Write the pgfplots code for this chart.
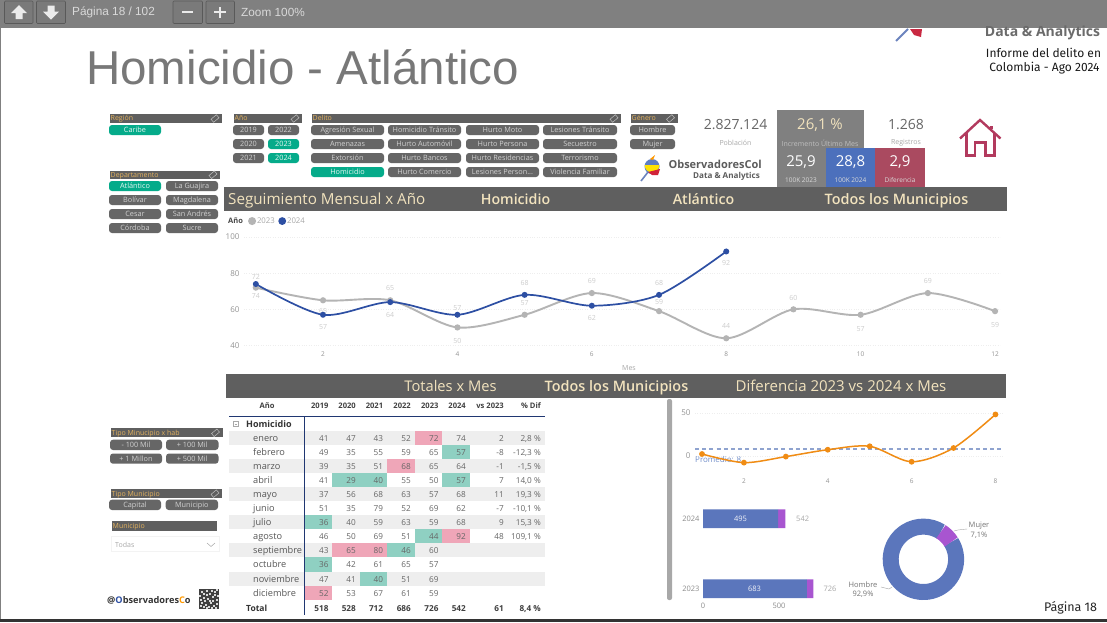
\documentclass[border=0pt]{standalone}
\usepackage{pgfplots}
\pgfplotsset{compat=1.18}
\usepackage{fontspec}
\setmainfont{Open Sans}
\newfontfamily\lib{Liberation Sans}
\newfontfamily\fira{Fira Sans}
\newfontfamily\semi{Open Sans Semibold}
\definecolor{tbar}{HTML}{808080}
\definecolor{dark}{HTML}{5F5F5F}
\definecolor{btn}{HTML}{666666}
\definecolor{teal}{HTML}{05AB8A}
\definecolor{cream}{HTML}{F2E3BE}
\definecolor{gold}{HTML}{E3B25E}
\definecolor{txt}{HTML}{666666}
\definecolor{lgt}{HTML}{A8A8A8}
\definecolor{faint}{HTML}{CCCCCC}
\definecolor{stripe}{HTML}{EEEEEE}
\definecolor{pink}{HTML}{EFA6B8}
\definecolor{mint}{HTML}{8FD0C2}
\definecolor{gr}{HTML}{B4B4B4}
\definecolor{bl}{HTML}{2D4FA3}
\definecolor{barb}{HTML}{5B76BC}
\definecolor{purp}{HTML}{A855D0}
\definecolor{org}{HTML}{F08C14}
\definecolor{crim}{HTML}{B23A5E}
\definecolor{redbox}{HTML}{AA4A60}
\definecolor{blubox}{HTML}{4C70BC}
\definecolor{dashc}{HTML}{8FA3CF}
\newcommand{\fs}[1]{\fontsize{#1}{#1}\selectfont}
\newcommand{\btn}[6][btn]{\fill[#1,rounded corners=3pt] (#2,#3) rectangle (#4,#5);
  \node[font=\fs{7.3},text=#6,inner sep=0pt,anchor=base] at ({(#2+#4)/2},{(#3+#5)/2+2.5}) {\btntext};}
\newcommand{\B}[6][btn]{\def\btntext{#6}\btn[#1]{#2}{#3}{#4}{#5}{white!82!black}}
\newcommand{\T}[5]{\def\btntext{#5}\btn[teal]{#1}{#2}{#3}{#4}{white!90!teal}}
\newcommand{\hdr}[6]{\fill[dark] (#1,#2) rectangle (#3,#4);
  \node[font=\fs{7},text=gold,inner sep=0pt,anchor=base west] at (#1+0.5,{(#2+#4)/2+2.4}) {#5};
  \ifx#6y\draw[white!75!black,line width=0.5pt,rotate around={40:(#3-7,{(#2+#4)/2})}] (#3-10.5,{(#2+#4)/2-2}) rectangle (#3-3.5,{(#2+#4)/2+2});\fi}
\newcommand{\tx}[5][center]{\node[font=\fs{#2},text=#3,inner sep=0pt,anchor=#1] at #4 {#5};}
\newcommand{\hl}[3]{\fill[#1] ({304.7+27.47*#2},{431+14.05*#3}) rectangle ({304.7+27.47*(#2+1)},{431+14.05*(#3+1)});}
\newcommand{\cell}[3]{\node[font=\fs{8.2},text=txt,inner sep=0pt,anchor=base east] at (#1,{441.5+14.05*#2}) {#3};}
\newcommand{\trow}[9]{\node[font=\fs{9.2},text=txt!85!black,inner sep=0pt,anchor=base west] at (253,{441.5+14.05*#1}) {#2};
  \cell{328.7}{#1}{#3}\cell{356}{#1}{#4}\cell{383.3}{#1}{#5}\cell{411}{#1}{#6}\cell{438.7}{#1}{#7}\cell{466}{#1}{#8}\def\rowid{#1}\extra{#9}}
\newcommand{\extra}[1]{\extraB#1\relax}
\def\extraB#1/#2\relax{\cell{504}{\rowid}{#1}\cell{541}{\rowid}{#2}}
\begin{document}
\begin{tikzpicture}
\begin{scope}[x=1pt,y=-1pt]
\path[use as bounding box] (0,0) rectangle (1107,622);
\fill[white] (0,0) rectangle (1107,622);
% toolbar
\fill[tbar] (0,0) rectangle (1107,28);
\fill[tbar] (0,28) rectangle (1,622);
\fill[white!20!black] (0,618.5) rectangle (1107,622);
\foreach \a/\b in {4.5/33,36.5/65.5,173/202.5,206/234.5}{\draw[white!35!black,fill=white!48!black,rounded corners=1pt,line width=0.6pt] (\a,1) rectangle (\b,23.5);}
\fill[white!92!black] (19,5) -- (27,13) -- (22.5,13) -- (22.5,19) -- (15.5,19) -- (15.5,13) -- (11,13) -- cycle;
\fill[white!92!black] (51,19.5) -- (59,11.5) -- (54.5,11.5) -- (54.5,5.5) -- (47.5,5.5) -- (47.5,11.5) -- (43,11.5) -- cycle;
\fill[white!92!black] (182,11) rectangle (193,13);
\fill[white!92!black] (214,11) rectangle (226,13);\fill[white!92!black] (219,6.5) rectangle (221,18);
\tx[west]{11.8}{white!85!black}{(72,12)}{\lib Página 18 / 102}
\tx[west]{11.8}{white!85!black}{(241,12)}{\lib Zoom 100\%}
% title and top right
\tx[west]{47.5}{white!47!black}{(86,67)}{\lib Homicidio - Atlántico}
\tx{14}{white!42!black}{(1042.5,33)}{\bfseries Data \& Analytics}
\tx{12}{black!90}{(1043.5,53)}{\fira Informe del delito en}
\tx{12}{black!90}{(1044.5,68)}{\fira Colombia - Ago 2024}
\draw[white!30!bl,line width=1.8pt] (896,41) -- (908,29);
\fill[crim!70!red] (910,29) -- (922,29) -- (921,37) -- (914,35) -- cycle;
\tx{12.5}{black!85}{(1070.5,608)}{\fira Página 18}
% region slicers
\hdr{110}{114}{222}{123}{Región}{y}
\T{109}{125}{161}{135}{Caribe}
\hdr{234}{114}{302}{123}{Año}{y}
\B{233}{125}{264}{135}{2019}\B{268}{125}{299}{135}{2022}
\B{233}{139}{264}{149}{2020}\T{268}{139}{299}{149}{2023}
\B{233}{153}{264}{163}{2021}\T{268}{153}{299}{163}{2024}
\hdr{312}{114}{621}{123}{Delito}{y}
\B{311}{125}{384}{135}{Agresión Sexual}\B{388}{125}{461}{135}{Homicidio Tránsito}\B{466}{125}{539}{135}{Hurto Moto}\B{543}{125}{617}{135}{Lesiones Tránsito}
\B{311}{139}{384}{149}{Amenazas}\B{388}{139}{461}{149}{Hurto Automóvil}\B{466}{139}{539}{149}{Hurto Persona}\B{543}{139}{617}{149}{Secuestro}
\B{311}{153}{384}{163}{Extorsión}\B{388}{153}{461}{163}{Hurto Bancos}\B{466}{153}{539}{163}{Hurto Residencias}\B{543}{153}{617}{163}{Terrorismo}
\T{311}{167}{384}{177}{Homicidio}\B{388}{167}{461}{177}{Hurto Comercio}\B{466}{167}{539}{177}{Lesiones Person...}\B{543}{167}{617}{177}{Violencia Familiar}
\hdr{631}{114}{677.5}{123}{Género}{y}
\B{630}{125}{675}{135}{Hombre}\B{630}{139}{675}{149}{Mujer}
\hdr{110}{170.5}{220}{179}{Departamento}{y}
\T{109}{181}{161}{191}{Atlántico}\B{166}{181}{218}{191}{La Guajira}
\B{109}{195}{161}{205}{Bolívar}\B{166}{195}{218}{205}{Magdalena}
\B{109}{209}{161}{219}{Cesar}\B{166}{209}{218}{219}{San Andrés}
\B{109}{223}{161}{233}{Córdoba}\B{166}{223}{218}{233}{Sucre}
% KPI
\tx{14}{txt}{(735.5,125)}{2.827.124}
\tx{7}{lgt}{(735.5,143)}{Población}
\fill[tbar] (777,110) rectangle (864,149);
\fill[tbar] (777,148) rectangle (826,187);
\fill[blubox] (826,148) rectangle (875,187);
\fill[redbox] (875,148) rectangle (925,187);
\tx{15}{cream}{(820,125)}{26,1 \%}
\tx{7}{white!75!black}{(820,143)}{Incremento Último Mes}
\tx{14}{txt}{(906,125)}{1.268}
\tx{7}{lgt}{(906,143)}{Registros}
\tx{15}{white}{(801,162)}{25,9}\tx{15}{white}{(850.5,162)}{28,8}\tx{15}{white}{(900,162)}{2,9}
\tx{6.5}{white!85!black}{(801,180)}{100K 2023}\tx{6.5}{white!85!black}{(850.5,180)}{100K 2024}\tx{6.5}{white!85!black}{(900,180)}{Diferencia}
% house
\draw[crim,line width=2.4pt,line join=miter] (960,138.5) -- (980,120) -- (1000.5,138.5);
\draw[crim,line width=2.4pt] (991.5,129) -- (991.5,125.5);
\draw[crim,line width=2.4pt] (966.5,133) -- (966.5,155.5) -- (975,155.5) -- (975,142.5) -- (985.5,142.5) -- (985.5,155.5) -- (994.5,155.5) -- (994.5,133);
% logo
\draw[white!30!bl,line width=1.6pt] (641,181) -- (648,172);
\fill[blubox!90!white] (652,166.5) circle (7.5);
\fill[yellow!85!orange] (644.6,165) arc (180:0:7.4) -- cycle;
\fill[crim!60!red] (648,172) -- (660,169) -- (658,175) -- (652,175) -- cycle;
\fill[orange!80!yellow] (650,159) -- (655,155) -- (653,160) -- cycle;
\tx[east]{11}{txt!90!black}{(762,164)}{\bfseries ObservadoresCol}
\tx[east]{8.1}{txt!90!black}{(760,176)}{\bfseries Data \& Analytics}
% banners
\fill[dark] (224,187) rectangle (1007,211);
\tx[base west]{15.2}{cream}{(228,204)}{Seguimiento Mensual x Año}
\tx[base]{14.2}{cream}{(515.5,204)}{\semi Homicidio}
\tx[base]{14.2}{cream}{(703.5,204)}{\semi Atlántico}
\tx[base]{14.4}{cream}{(896.5,204)}{\semi Todos los Municipios}
\fill[dark] (226,374) rectangle (1006,398);
\tx[base]{14.7}{cream}{(450.5,391)}{Totales x Mes}
\tx[base]{14.4}{cream}{(616.5,391)}{\semi Todos los Municipios}
\tx[base]{15}{cream}{(841,391)}{Diferencia 2023 vs 2024 x Mes}
\tx[west]{7.5}{txt!70!black}{(228,221)}{\bfseries Año}
% left lower slicers
\hdr{111}{428.3}{222.5}{437.3}{Tipo Minucipio x hab}{y}
\B{110}{439.7}{162}{450}{- 100 Mil}\B{166}{439.7}{218.5}{450}{+ 100 Mil}
\B{110}{453.5}{162}{463.7}{+ 1 Millon}\B{166}{453.5}{218.5}{463.7}{+ 500 Mil}
\hdr{111}{489.3}{222}{498}{Tipo Municipio}{y}
\B{109}{499.7}{161}{510}{Capital}\B{165.7}{499.7}{218}{510}{Municipio}
\hdr{112}{520.7}{217}{530.7}{Municipio}{n}
\draw[stripe!70!white,line width=0.5pt] (111,536) rectangle (219,551);
\tx[west]{7}{lgt}{(115,545)}{Todas}
\draw[lgt,line width=0.5pt] (207,543) -- (211,546.5) -- (215,543);
\tx[west]{9.2}{black!80}{(107,600)}{\bfseries @{\color{bl}O}bservadores{\color{orange!80!yellow}C}o}
% QR
\fill[white!25!black] (199,589) rectangle (219,609);
\foreach \x/\y in {201/591,206/590,209/593,214/591,203/597,207/598,212/596,216/599,201/602,205/604,210/602,213/605,216/603,208/606,203/606,211/590,
 206/594,199/595,204/600,209/600,214/594,217/595,200/599,212/600,200/605,206/607,215/607,211/607,203/593,216/589}{\fill[white!85!black] (\x,\y) rectangle +(1.6,1.6);}
% table
\foreach \r in {0,2,4,6,8,10}{\fill[stripe] (229,{431+14.05*\r}) rectangle (545,{431+14.05*(\r+1)});}
\hl{pink}{4}{0}\hl{pink}{3}{2}\hl{pink}{5}{7}\hl{pink}{1}{8}\hl{pink}{2}{8}\hl{pink}{0}{11}
\hl{mint}{5}{1}\hl{mint}{1}{3}\hl{mint}{2}{3}\hl{mint}{5}{3}\hl{mint}{0}{6}\hl{mint}{4}{7}\hl{mint}{3}{8}\hl{mint}{0}{9}\hl{mint}{2}{10}
\draw[bl!70!black,line width=0.5pt] (229,416.3) -- (545,416.3);
\draw[bl!70!black,line width=0.5pt] (304,416.3) -- (304,615);
\foreach \h/\x in {2019/328.7,2020/356,2021/383.3,2022/411,2023/438.7,2024/466,vs 2023/504,\% Dif/541}{\node[font=\fs{7.6}\bfseries,text=black!75,inner sep=0pt,anchor=base east] at (\x,408) {\h};}
\node[font=\fs{7.6}\bfseries,text=black!75,inner sep=0pt,anchor=base] at (267,408) {Año};
\draw[lgt,line width=0.4pt] (233.5,421.5) rectangle (238,426); \draw[lgt,line width=0.4pt] (234.5,423.7) -- (237,423.7);
\node[font=\fs{9}\bfseries,text=black!80,inner sep=0pt,anchor=base west] at (246,427.5) {Homicidio};
\trow{0}{enero}{41}{47}{43}{52}{72}{74}{2/2,8 \%}
\trow{1}{febrero}{49}{35}{55}{59}{65}{57}{-8/-12,3 \%}
\trow{2}{marzo}{39}{35}{51}{68}{65}{64}{-1/-1,5 \%}
\trow{3}{abril}{41}{29}{40}{55}{50}{57}{7/14,0 \%}
\trow{4}{mayo}{37}{56}{68}{63}{57}{68}{11/19,3 \%}
\trow{5}{junio}{51}{35}{79}{52}{69}{62}{-7/-10,1 \%}
\trow{6}{julio}{36}{40}{59}{63}{59}{68}{9/15,3 \%}
\trow{7}{agosto}{46}{50}{69}{51}{44}{92}{48/109,1 \%}
\trow{8}{septiembre}{43}{65}{80}{46}{60}{}{/}
\trow{9}{octubre}{36}{42}{61}{65}{57}{}{/}
\trow{10}{noviembre}{47}{41}{40}{51}{69}{}{/}
\trow{11}{diciembre}{52}{53}{67}{61}{59}{}{/}
\node[font=\fs{8.5}\bfseries,text=black!80,inner sep=0pt,anchor=base west] at (246,611.5) {Total};
\foreach \h/\x in {518/328.7,528/356,712/383.3,686/411,726/438.7,542/466,61/504,{8,4 \%}/541}{\node[font=\fs{8.2}\bfseries,text=black!75,inner sep=0pt,anchor=base east] at (\x,611.5) {\h};}
% scrollbar
\fill[lgt,rounded corners=2pt] (667,399) rectangle (672,600);
% donut labels
\tx{7.5}{lgt!70!black}{(979,525.7)}{Mujer}\tx{7.5}{lgt!70!black}{(979,535.5)}{7,1\%}
\tx{7.5}{lgt!70!black}{(863,584.3)}{Hombre}\tx{7.5}{lgt!70!black}{(863,594)}{92,9\%}
\draw[lgt,line width=0.4pt] (954,531) .. controls (957,530) .. (967,529);
\draw[lgt,line width=0.4pt] (881,587) -- (889,589) -- (892,587);
\tx[west]{8}{blubox!80!white}{(695,460)}{Promedio: 8}
\end{scope}

% ---------- monthly line chart
\begin{axis}[scale only axis, anchor=south west, at={(244pt,-345.5pt)},
  width=756pt, height=108.5pt,
  xmin=0.824, xmax=12.074, ymin=40, ymax=100,
  xtick={2,4,6,8,10,12}, ytick={40,60,80,100},
  axis line style={draw=none}, tick style={draw=none},
  ymajorgrids, grid style={dotted,line width=0.4pt,stripe},
  tick label style={text=txt!70!white},
  x tick label style={font=\fs{6.5},yshift=-3pt},
  y tick label style={font=\fs{8},xshift=-1pt},
  xlabel={Mes}, xlabel style={font=\fs{7},text=lgt,xshift=7pt,yshift=-2pt},
  /pgf/number format/assume math mode=true,
  clip=false,
  legend columns=-1,
  legend style={at={(0.0052,1.147)},anchor=west,draw=none,fill=none,font=\fs{7.8},text=lgt,inner sep=0pt,
     /tikz/every even column/.append style={column sep=1.5pt},
     /tikz/every odd column/.append style={column sep=-1pt}},
  legend image code/.code={\fill[#1] (0pt,0pt) circle (3pt);},
  legend cell align=left,
  visualization depends on={value \thisrow{s} \as \shf},
  every node near coord/.append style={anchor=center,yshift=\shf pt,font=\fs{7},text=faint,inner sep=0pt},
]
\addplot[smooth,color=gr,line width=1.9pt,mark=*,mark size=2.1pt,mark options={solid},
  nodes near coords,point meta=y] table[x=m,y=v] {
m v s
1 72 11
2 65 -11
3 65 12
4 50 -14
5 57 12
6 69 12
7 59 9
8 44 12
9 60 11
10 57 -14
11 69 12
12 59 -14
};
\addlegendentry{2023}
\addplot[smooth,color=bl,line width=1.7pt,mark=*,mark size=2.1pt,mark options={solid},
  nodes near coords,point meta=y] table[x=m,y=v] {
m v s
1 74 -12
2 57 -12
3 64 -13
4 57 7
5 68 12
6 62 -12
7 68 12
8 92 -12
};
\addlegendentry{2024}
\end{axis}

% ---------- difference chart
\begin{axis}[scale only axis, anchor=south west, at={(695pt,-475pt)},
  width=308pt, height=62.3pt,
  xmin=0.833, xmax=8.18, ymin=-22.4, ymax=50,
  xtick={2,4,6,8}, ytick={0,50},
  axis line style={draw=none}, tick style={draw=none},
  ymajorgrids, grid style={dotted,line width=0.4pt,stripe},
  tick label style={text=txt!70!white},
  x tick label style={font=\fs{6.5},yshift=-0.5pt},
  y tick label style={font=\fs{8},xshift=-1pt},
  /pgf/number format/assume math mode=true,
  clip=false]
\addplot[color=dashc,line width=1.7pt,dash pattern=on 4pt off 3.2pt,mark=none] coordinates {(0.833,7.6) (8.18,7.6)};
\addplot[smooth,color=org,line width=1.5pt,mark=*,mark size=2.1pt,mark options={solid}] coordinates {(1,2) (2,-8) (3,-1) (4,7) (5,11) (6,-7) (7,9) (8,48)};
\end{axis}

% ---------- stacked bars
\begin{axis}[scale only axis, anchor=south west, at={(703pt,-600pt)},
  width=121.6pt, height=96pt,
  xbar stacked, bar width=18.7pt,
  xmin=0, xmax=800, ymin=-0.161, ymax=1.21,
  xtick={0,500}, ytick={0,1}, yticklabels={2023,2024},
  axis line style={draw=none}, tick style={draw=none},
  tick label style={font=\fs{7.5},text=txt!75!white},
  /pgf/number format/assume math mode=true,
  clip=false]
\addplot[fill=barb,draw=none] coordinates {(683,0) (495,1)};
\addplot[fill=purp,draw=none] coordinates {(43,0) (47,1)};
\node[font=\fs{7.5},text=lgt,anchor=west] at (axis cs:770,0) {726};
\node[font=\fs{7.5},text=lgt,anchor=west] at (axis cs:590,1) {542};
\end{axis}

% ---------- donut
\begin{axis}[scale only axis, anchor=center, at={(923.4pt,-559.3pt)},
  width=100pt, height=100pt, xmin=-50, xmax=50, ymin=-50, ymax=50, hide axis, clip=false]
\draw[barb,line width=16pt] (axis cs:{32.7*cos(32)},{32.7*sin(32)}) arc[start angle=32,end angle=-302.44,radius=32.7pt];
\draw[purp,line width=16pt] (axis cs:{32.7*cos(57.56)},{32.7*sin(57.56)}) arc[start angle=57.56,end angle=32,radius=32.7pt];
\end{axis}
\begin{scope}[x=1pt,y=-1pt]
\tx{7.5}{white!90!barb}{(754.5,588.7)}{683}
\tx{7.5}{white!90!barb}{(740.5,518.7)}{495}
\end{scope}
\end{tikzpicture}
\end{document}
